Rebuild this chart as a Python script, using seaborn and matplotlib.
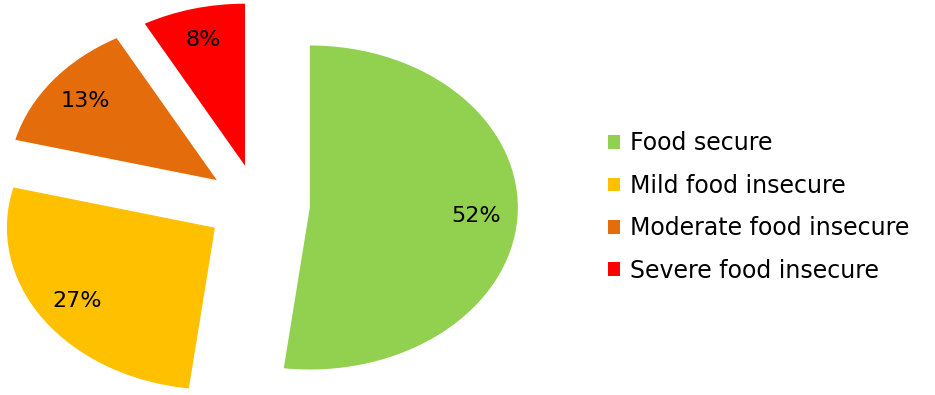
import matplotlib
matplotlib.use("Agg")
import matplotlib.pyplot as plt
import seaborn as sns

# data
categories = ["Food secure", "Mild food insecure", "Moderate food insecure", "Severe food insecure"]
shares = [52, 27, 13, 8]
colors = ["#92D050", "#FFC000", "#E46C0A", "#FF0000"]

sns.set_theme(style="white")
plt.rcParams["font.family"] = ["DejaVu Sans"]

fig = plt.figure(figsize=(9.35, 3.95), dpi=100)
ax = fig.add_axes([0, 0, 1, 1])

wedges, texts, autotexts = ax.pie(
    shares,
    colors=colors,
    startangle=90,
    counterclock=False,
    explode=[0.25] * len(shares),
    autopct="%1.0f%%",
    pctdistance=0.8,
    wedgeprops=dict(linewidth=0),
    textprops=dict(fontsize=16, color="black"),
)

# the reference pie is stretched sideways, so drop the equal aspect
ax.set_aspect("auto")
ax.set_xlim(-1.24, 3.255)
ax.set_ylim(-1.173, 1.265)
ax.axis("off")

ax.legend(
    wedges, categories,
    loc="center left",
    bbox_to_anchor=(0.650, 0.476),
    bbox_transform=fig.transFigure,
    frameon=False,
    fontsize=17,
    labelcolor="black",
    handlelength=0.52,
    handleheight=0.52,
    handletextpad=0.42,
    labelspacing=0.78,
    borderpad=0,
    borderaxespad=0,
)

fig.savefig("out.png", dpi=100)
